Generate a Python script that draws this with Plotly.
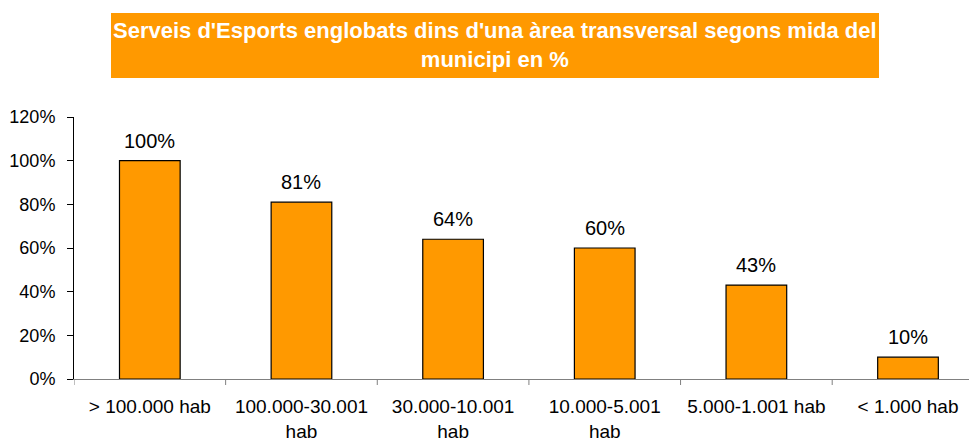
import plotly.graph_objects as go

categories = ["> 100.000 hab", "100.000-30.001<br>hab", "30.000-10.001<br>hab",
              "10.000-5.001<br>hab", "5.000-1.001 hab", "< 1.000 hab"]
values = [100, 81, 64, 60, 43, 10]
labels = [f"{v}%" for v in values]
y_ticks = [0, 20, 40, 60, 80, 100, 120]
y_ticktext = [f"{t}%" for t in y_ticks]
title = "Serveis d'Esports englobats dins d'una àrea transversal segons mida del<br>municipi en %"

FONT = "Liberation Sans, Arial, sans-serif"
OFF = 8  # page body margin

x_pos = list(range(len(categories)))

fig = go.Figure()
fig.add_trace(go.Bar(
    x=x_pos, y=values,
    width=0.40,
    marker=dict(color="#FF9900", line=dict(color="#000000", width=1.2)),
    hoverinfo="skip",
))

for xi, v, lab in zip(x_pos, values, labels):
    fig.add_annotation(x=xi, y=v, xref="x", yref="y", text=lab, showarrow=False,
                       yanchor="bottom", xanchor="center", yshift=7,
                       font=dict(family=FONT, size=20, color="#000000"))

fig.update_layout(
    width=977 - OFF, height=440 - OFF,
    margin=dict(l=74 - OFF, r=0, t=117 - OFF, b=61, autoexpand=False),
    paper_bgcolor="white", plot_bgcolor="white",
    showlegend=False,
    xaxis=dict(
        range=[-0.5, 5.455],
        tickmode="array",
        tickvals=x_pos,
        ticktext=categories,
        showgrid=False, zeroline=False, automargin=False,
        showline=True, linecolor="#808080", linewidth=1,
        ticks="", ticklabelstandoff=10,
        tickfont=dict(family=FONT, size=19, color="#000000"),
    ),
    yaxis=dict(
        range=[0, 120], tickvals=y_ticks, ticktext=y_ticktext,
        showgrid=False, zeroline=False, automargin=False,
        showline=True, linecolor="#000000", linewidth=1,
        ticks="outside", ticklen=6, tickcolor="#000000",
        ticklabelstandoff=8,
        tickfont=dict(family=FONT, size=18, color="#000000"),
    ),
)

# x-axis tick marks between categories
for b in [i - 0.5 for i in range(len(categories) + 1)]:
    fig.add_shape(type="line", xref="x", yref="paper", x0=b, x1=b, y0=0, y1=-6 / 262,
                  line=dict(color="#808080", width=1))

# title box
fig.add_shape(type="rect", xref="paper", yref="paper",
              x0=(111 - 74) / 903, x1=(879 - 74) / 903,
              y0=(379 - 78) / 262, y1=(379 - 13) / 262,
              fillcolor="#FF9900", line=dict(width=0), layer="below")
fig.add_annotation(xref="paper", yref="paper",
                   x=((111 + 879) / 2 - 74) / 903, y=(379 - 45) / 262,
                   text="<b>" + title + "</b>", showarrow=False,
                   font=dict(family=FONT, size=22, color="white"),
                   xanchor="center", yanchor="middle", align="center")

fig.write_html("out.html")
